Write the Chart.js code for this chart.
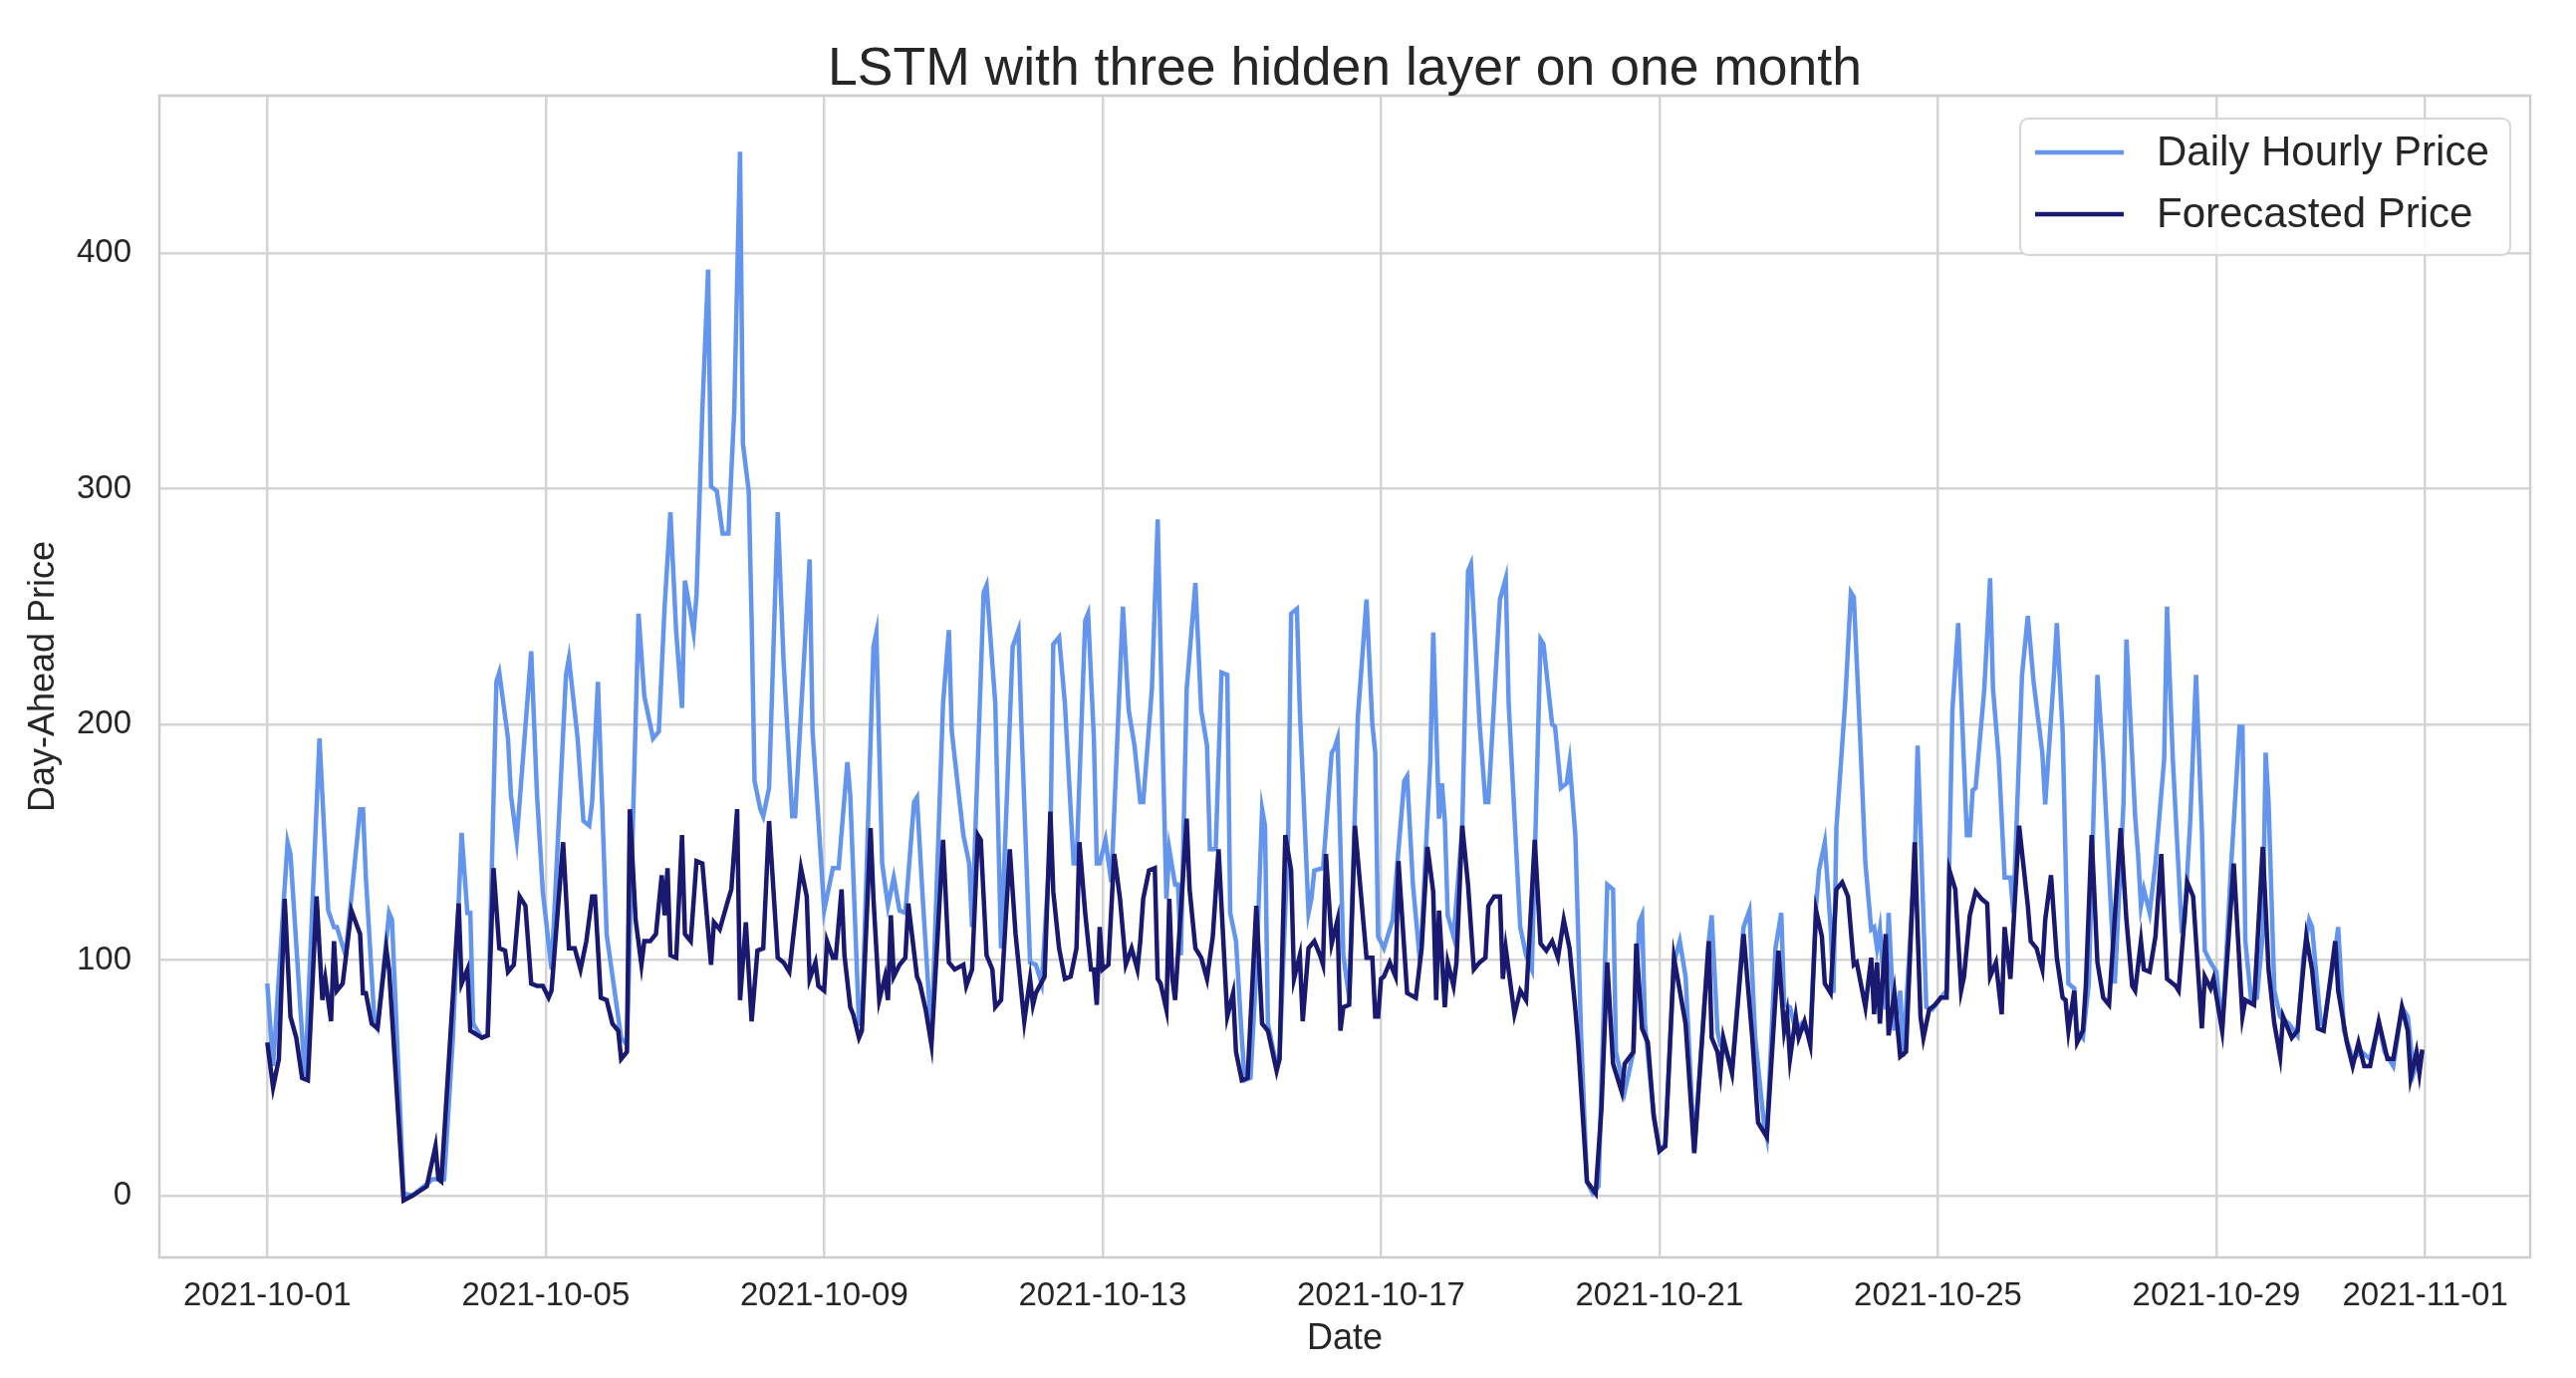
<!DOCTYPE html>
<html>
<head>
<meta charset="utf-8">
<script src="https://cdn.jsdelivr.net/npm/chart.js@4.4.1/dist/chart.umd.min.js"></script>
<style>
  body { margin: 0; background: #fff; }
  canvas { display: block; }
</style>
</head>
<body>
<canvas id="priceChart" width="2586" height="1383"></canvas>
<script>
  // hours since 2021-10-01 00:00
  const actualHours = [0,2,7,8,13,18,21,23,24,27,32,33,34,37,38,42,43,47,50,53,57,61,64,67,69,70,71,74,76,79,80,83,84,86,91,93,95,
    98,103,104,107,109,111,112,114,117,122,124,128,130,133,135,137,139,141,143,144,146,147,148,150,152,153,155,157,159,161,163,164,166,167,168,170,171,173,176,178,181,182,187,188,190,
    192,195,197,200,201,204,205,209,210,212,214,216,218,220,223,224,226,229,233,235,236,240,242,243,247,248,251,253,257,259,260,263,265,267,270,271,273,275,278,279,282,283,285,286,287,
    289,291,295,297,299,301,302,305,307,309,310,311,313,314,315,317,320,322,324,325,327,329,331,332,334,336,337,339,341,343,344,345,348,349,352,353,355,356,359,360,361,364,367,368,369,371,373,376,379,381,382,383,
    385,388,392,393,395,397,398,401,402,404,405,406,407,409,412,414,415,418,420,421,425,427,428,432,434,436,439,440,443,444,446,448,449,451,453,455,457,459,462,464,465,468,471,473,474,475,478,
    480,482,485,487,489,492,497,498,500,501,503,505,509,511,513,516,517,520,522,523,525,527,529,532,534,535,537,539,540,541,544,546,547,549,551,553,554,555,556,558,559,561,563,564,568,569,570,572,574,
    577,579,581,583,586,587,588,589,592,594,595,597,599,601,602,605,607,609,612,613,616,617,619,621,623,624,626,628,631,633,637,640,641,644,645,646,647,649,651,654,655,657,660,661,663,665,667,668,670,
    672,674,677,680,681,682,684,686,688,689,690,692,694,697,700,702,704,705,708,709,713,714,716,719,722,725,728,730,733,736,738,740,741,743];
  const actualPrices = [90,55,150,145,49,194,121,114,114,102,164,164,135,73,71,120,117,1,0,3,7,7,67,154,120,120,73,67,68,218,222,194,170,151,231,170,129,
    96,221,228,194,159,157,167,218,111,67,64,247,212,194,197,250,290,239,207,261,247,239,255,333,393,301,299,281,281,333,443,319,299,244,176,164,161,173,290,227,161,161,270,197,160,
    121,139,139,184,170,73,73,233,239,141,123,135,121,120,167,169,126,67,209,240,197,153,141,114,256,259,209,105,233,240,200,99,98,90,150,234,237,209,141,141,244,247,194,141,141,
    151,133,250,206,191,167,167,215,287,176,126,147,132,132,102,215,260,206,191,147,147,222,221,120,108,67,49,50,96,164,157,73,55,58,153,247,249,206,120,126,138,139,188,190,194,102,84,203,253,200,188,110,
    105,117,176,178,132,105,111,185,239,160,175,159,119,110,156,265,268,200,167,167,253,262,209,114,102,96,236,234,200,199,173,175,184,153,67,6,1,4,132,130,61,44,61,116,119,73,34,
    19,22,99,108,93,19,108,119,70,64,61,53,114,121,67,31,25,105,120,81,80,70,73,67,123,138,150,114,86,156,209,256,254,200,141,113,114,105,113,79,120,70,87,59,141,191,156,80,79,
    84,87,206,243,153,153,172,173,215,262,215,185,135,135,120,221,246,218,188,166,221,243,197,90,88,70,67,90,221,185,90,167,236,161,145,123,130,120,141,185,250,185,114,116,159,221,156,104,99,
    95,70,138,199,199,108,83,84,111,188,167,87,76,73,68,101,117,114,73,72,104,114,70,58,61,58,73,61,55,80,76,52,56,61];

  const forecastHours = [0,2,4,6,8,10,12,14,17,19,20,22,23,24,26,29,32,33,34,36,38,41,42,47,50,55,58,59,60,66,67,69,70,74,76,78,80,82,83,85,87,89,91,93,95,
    97,98,102,104,106,108,110,112,113,115,117,119,121,122,124,125,127,129,130,132,134,136,137,138,139,141,143,144,146,148,150,153,154,156,159,160,162,163,165,167,169,171,173,176,178,180,184,186,187,189,190,
    192,193,195,196,198,199,201,202,204,205,208,209,211,213,214,215,216,218,220,221,224,225,227,229,233,235,237,240,241,243,245,246,248,250,251,253,256,258,261,263,264,265,268,270,271,273,275,277,279,280,282,284,285,286,287,
    288,290,292,294,296,298,300,301,302,304,306,307,308,310,311,312,313,317,318,320,322,324,326,328,329,331,333,334,336,338,341,343,345,348,349,351,353,354,356,357,359,361,363,364,365,367,369,370,371,373,375,377,379,381,382,383,
    384,385,387,389,390,393,396,398,400,402,403,404,406,407,409,410,412,414,416,418,420,421,423,425,426,427,430,432,434,437,439,441,443,445,447,449,451,452,455,458,460,462,464,467,468,471,472,474,476,478,
    480,482,485,489,492,497,498,500,501,502,505,509,512,514,517,521,523,524,525,527,528,530,532,534,536,537,539,541,543,545,547,548,551,553,554,555,556,558,559,561,563,565,568,570,571,573,575,
    577,579,580,582,584,585,587,589,591,593,594,596,598,599,601,604,607,608,610,612,613,615,617,619,620,621,623,624,626,627,629,631,633,635,639,641,643,644,646,647,649,651,653,655,658,659,662,664,667,668,670,
    671,674,678,681,682,685,688,690,692,694,695,698,700,703,705,707,709,713,714,717,719,721,723,725,728,731,733,736,738,739,741,742,743];
  const forecastPrices = [65,46,58,126,76,67,50,49,127,83,92,74,108,87,90,121,111,86,86,73,71,105,96,-2,0,4,21,7,6,124,90,96,70,67,68,139,105,104,95,98,127,123,90,89,89,
    84,87,150,105,105,96,108,127,127,84,83,73,70,58,61,164,117,98,108,108,111,136,119,139,102,101,153,111,108,142,141,98,116,113,126,130,164,83,116,74,104,105,159,101,99,95,139,127,92,99,89,
    87,108,101,101,130,102,80,77,67,70,156,126,83,93,83,119,93,98,101,124,93,90,79,64,151,99,96,98,89,96,153,151,102,96,80,83,147,111,74,92,81,86,93,163,129,105,92,93,105,150,120,96,96,81,114,
    96,98,145,126,98,105,96,108,126,138,139,92,90,79,126,93,83,160,130,105,101,92,110,147,123,76,86,61,49,50,123,73,70,53,58,153,138,92,102,74,105,108,102,98,145,107,117,70,80,81,157,129,101,101,76,76,
    92,93,99,93,142,86,84,105,148,129,83,121,80,99,89,99,157,132,96,99,101,123,127,127,92,105,77,87,83,151,107,104,108,101,117,105,79,64,6,1,37,99,56,44,56,61,107,71,65,34,
    19,21,101,73,18,108,67,61,52,67,52,111,67,31,25,104,70,77,58,76,67,74,64,121,110,90,86,130,133,127,98,99,80,101,77,99,73,111,68,86,59,61,150,76,67,79,81,
    84,84,138,130,87,93,119,129,126,124,93,99,77,114,92,157,123,108,105,96,117,136,101,84,83,70,87,65,70,89,153,99,84,81,156,117,89,87,108,96,95,110,145,92,89,87,133,127,71,93,88,
    92,70,141,76,83,81,148,96,73,59,76,67,70,110,96,71,70,108,87,65,55,65,55,55,74,58,58,80,70,50,61,52,62];

  const tickHours = [0, 96, 192, 288, 384, 480, 576, 672, 744];
  const tickLabels = ['2021-10-01', '2021-10-05', '2021-10-09', '2021-10-13', '2021-10-17',
                      '2021-10-21', '2021-10-25', '2021-10-29', '2021-11-01'];
  const priceTicks = [0, 100, 200, 300, 400];
  const chartTitle = 'LSTM with three hidden layer on one month';

  const toPoints = (xs, ys) => xs.map((x, i) => ({ x, y: ys[i] }));
  const font = '"Liberation Sans", Arial, sans-serif';

  // matplotlib-like frame, title centred over the axes, legend inside the axes
  const framePlugin = {
    id: 'frame',
    afterDraw(chart) {
      const { ctx, chartArea: a } = chart;
      ctx.save();
      ctx.strokeStyle = '#cccccc';
      ctx.lineWidth = 2.5;
      ctx.strokeRect(a.left, a.top, a.right - a.left, a.bottom - a.top);

      ctx.fillStyle = '#262626';
      ctx.font = '53.5px ' + font;
      ctx.textAlign = 'center';
      ctx.textBaseline = 'middle';
      ctx.fillText(chartTitle, (a.left + a.right) / 2, a.top - 26);

      // legend box
      const bx = a.right - 512, by = a.top + 23, bw = 492, bh = 137;
      ctx.fillStyle = 'rgba(255,255,255,0.85)';
      ctx.strokeStyle = '#d6d6d6';
      ctx.lineWidth = 2;
      ctx.beginPath();
      ctx.roundRect(bx, by, bw, bh, 8);
      ctx.fill();
      ctx.stroke();

      const rows = [by + 34, by + 96];
      const sets = chart.data.datasets;
      ctx.font = '42px ' + font;
      ctx.textAlign = 'left';
      rows.forEach((ry, i) => {
        ctx.strokeStyle = sets[i].borderColor;
        ctx.lineWidth = 4.5;
        ctx.beginPath();
        ctx.moveTo(bx + 15, ry);
        ctx.lineTo(bx + 104, ry);
        ctx.stroke();
        ctx.fillStyle = '#262626';
        ctx.fillText(sets[i].label, bx + 137, ry + 1);
      });
      ctx.restore();
    }
  };

  new Chart(document.getElementById('priceChart'), {
    type: 'line',
    data: {
      datasets: [
        { label: 'Daily Hourly Price', data: toPoints(actualHours, actualPrices),
          borderColor: '#6495ED', borderWidth: 4.5, pointRadius: 0, tension: 0, order: 2 },
        { label: 'Forecasted Price', data: toPoints(forecastHours, forecastPrices),
          borderColor: '#191970', borderWidth: 4.5, pointRadius: 0, tension: 0, order: 1 }
      ]
    },
    options: {
      responsive: false,
      animation: false,
      devicePixelRatio: 1,
      layout: { padding: { left: 0, right: 46, top: 96, bottom: 0 } },
      plugins: {
        legend: { display: false },
        tooltip: { enabled: false },
        title: { display: false }
      },
      scales: {
        x: {
          type: 'linear',
          min: -37.2,
          max: 780.2,
          afterBuildTicks: s => { s.ticks = tickHours.map(v => ({ value: v })); },
          afterFit: s => { s.height = 121; },
          grid: { color: '#d4d4d4', lineWidth: 2.5, drawTicks: false },
          border: { display: false },
          ticks: {
            autoSkip: false, maxRotation: 0, padding: 19,
            color: '#262626', font: { family: font, size: 33 },
            callback: (v, i) => tickLabels[i]
          },
          title: { display: true, text: 'Date', color: '#262626',
                   font: { family: font, size: 36 }, padding: { top: 0, bottom: 17 } }
        },
        y: {
          min: -26.2,
          max: 466.8,
          afterBuildTicks: s => { s.ticks = priceTicks.map(v => ({ value: v })); },
          afterFit: s => { s.width = 160; },
          grid: { color: '#d4d4d4', lineWidth: 2.5, drawTicks: false },
          border: { display: false },
          ticks: { padding: 28, color: '#262626', font: { family: font, size: 33 } },
          title: { display: true, text: 'Day-Ahead Price', color: '#262626',
                   font: { family: font, size: 36 }, padding: { top: 22, bottom: 0 } }
        }
      }
    },
    plugins: [framePlugin]
  });
</script>
</body>
</html>
